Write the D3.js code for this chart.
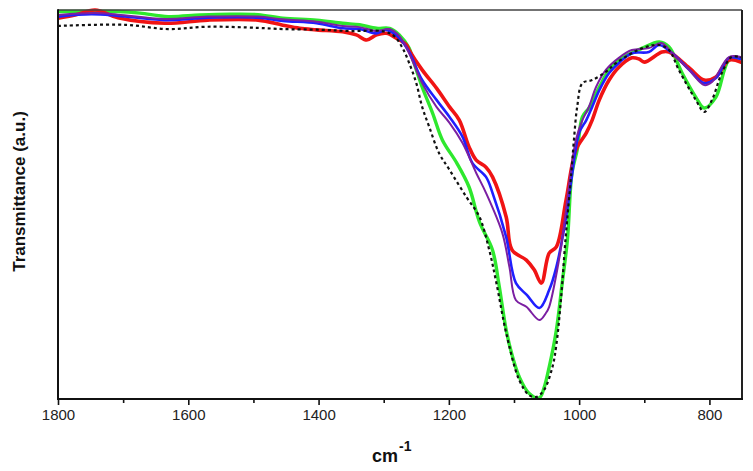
<!DOCTYPE html>
<html>
<head>
<meta charset="utf-8">
<script src="https://cdn.jsdelivr.net/npm/d3@7"></script>
<style>
  html, body { margin: 0; padding: 0; background: #fff; }
  svg { display: block; }
</style>
</head>
<body>
<svg id="chart" width="753" height="471"></svg>
<script>
// Wavenumber (cm-1), transmittance (a.u.)
const majorTicks = [1800, 1600, 1400, 1200, 1000, 800];
const minorTicks = [1700, 1500, 1300, 1100, 900];

const dashedBlack = [
  [1800,95.9],[1697,96.2],[1631,95.1],[1570,95.7],[1493,95.4],[1455,95.1],[1394,94.9],[1352,94.6],
  [1300,94.5],[1284,93.3],[1271,90.2],[1261,86.4],[1250,81.2],[1241,75.1],[1230,69.9],[1215,63.2],
  [1199,58.9],[1173,51.9],[1153,46.8],[1138,38.3],[1127,29.8],[1112,17.0],[1092,4.9],[1077,1.0],
  [1066,0.5],[1054,2.3],[1041,8.2],[1035,13.9],[1028,25.4],[1021,40.9],[1012,58.1],[1008,66.6],
  [1003,75.1],[995,81.2],[980,82.0],[959,84.1],[943,86.4],[903,90.2],[877,91.0],[862,89.7],
  [847,84.6],[821,76.9],[808,73.8],[796,76.9],[781,83.8],[766,87.9],[752,87.9]
];
const green = [
  [1800,99.6],[1708,99.6],[1674,99.2],[1631,98.3],[1582,98.7],[1536,98.9],[1493,98.8],[1455,97.9],
  [1403,97.4],[1363,96.6],[1337,96.2],[1311,95.3],[1291,95.3],[1276,93.6],[1261,90.2],[1256,87.7],
  [1241,80.2],[1225,73.5],[1210,66.6],[1188,60.7],[1169,54.5],[1153,45.5],[1133,38.3],[1123,29.3],
  [1112,17.7],[1103,11.3],[1092,5.7],[1077,1.5],[1061,0.3],[1054,2.8],[1046,8.2],[1035,17.7],
  [1026,29.8],[1018,40.9],[1011,58.1],[1003,64.0],[995,72.5],[985,74.8],[969,80.2],[954,84.6],
  [939,87.1],[903,90.2],[877,91.8],[862,90.5],[842,83.8],[821,77.6],[808,74.8],[790,77.6],
  [770,87.1],[752,87.7]
];
const red = [
  [1800,97.9],[1774,98.7],[1743,100.0],[1708,98.0],[1636,96.6],[1570,97.4],[1493,97.4],[1455,96.1],
  [1429,95.3],[1403,94.9],[1363,94.4],[1342,93.6],[1326,92.3],[1311,93.6],[1296,94.0],[1280,92.7],
  [1265,91.0],[1261,89.7],[1241,84.6],[1219,79.9],[1199,75.1],[1184,71.7],[1169,64.8],[1158,61.4],
  [1143,59.6],[1133,57.1],[1112,46.8],[1103,38.3],[1081,35.7],[1069,33.2],[1058,29.8],[1046,37.5],
  [1035,39.1],[1020,51.2],[1005,64.0],[989,68.4],[980,71.7],[969,76.9],[954,82.0],[939,85.3],
  [919,87.7],[908,87.4],[900,86.6],[873,89.2],[862,89.2],[831,85.1],[808,82.0],[790,82.8],
  [770,87.1],[752,86.6]
];
const blue = [
  [1800,98.3],[1749,98.9],[1708,98.5],[1636,97.4],[1570,98.0],[1493,98.0],[1455,97.2],[1403,96.6],
  [1363,95.3],[1337,95.1],[1311,94.0],[1296,94.9],[1276,92.8],[1261,89.2],[1241,82.0],[1219,76.9],
  [1199,72.5],[1179,67.4],[1164,60.7],[1143,57.1],[1133,53.0],[1112,41.6],[1097,29.8],[1080,26.7],
  [1061,23.4],[1046,28.0],[1035,33.9],[1020,46.8],[1012,56.3],[1000,68.4],[989,71.7],[980,75.1],
  [969,79.4],[954,83.8],[939,86.4],[919,88.9],[893,89.2],[877,91.0],[857,88.9],[831,84.6],
  [808,81.2],[790,82.5],[770,87.7],[752,87.4]
];
const purple = [
  [1800,98.7],[1743,99.2],[1708,98.8],[1636,97.7],[1570,98.3],[1493,98.3],[1455,97.6],[1403,97.0],
  [1363,95.9],[1337,95.6],[1311,94.6],[1291,95.1],[1276,93.3],[1261,88.9],[1241,81.2],[1219,75.1],
  [1199,71.0],[1179,65.8],[1158,58.1],[1143,53.0],[1118,42.7],[1107,33.9],[1097,25.4],[1081,23.7],
  [1061,20.3],[1051,22.1],[1046,23.7],[1031,35.7],[1023,44.7],[1015,55.5],[1005,66.6],[995,71.7],
  [985,75.1],[974,80.2],[959,84.6],[939,87.7],[919,89.7],[893,90.2],[874,91.5],[857,88.9],
  [831,84.6],[808,80.7],[796,81.5],[770,87.9],[752,87.9]
];

const W = 753, H = 471;
const plot = { left: 58, right: 742, top: 10, bottom: 399 };

const svg = d3.select("#chart");
const x = d3.scaleLinear().domain([1800, 750]).range([plot.left, plot.right]);
const y = d3.scaleLinear().domain([0, 100]).range([plot.bottom, plot.top]);

const clip = svg.append("defs").append("clipPath").attr("id", "clip")
  .append("rect")
  .attr("x", plot.left).attr("y", plot.top - 3)
  .attr("width", plot.right - plot.left).attr("height", plot.bottom - plot.top + 3);

const line = d3.line()
  .x(d => x(d[0])).y(d => y(d[1]))
  .curve(d3.curveCatmullRom.alpha(0.5));

const g = svg.append("g").attr("clip-path", "url(#clip)");

const series = [
  { data: green,  color: "#2ee82e", width: 3.4, dash: null },
  { data: red,    color: "#f01414", width: 3.6, dash: null },
  { data: blue,   color: "#1f1fff", width: 2.6, dash: null },
  { data: purple, color: "#7b1fa2", width: 2.0, dash: null },
  { data: dashedBlack, color: "#111111", width: 2.2, dash: "3,3" }
];
series.forEach(s => {
  g.append("path")
    .datum(s.data)
    .attr("d", line)
    .attr("fill", "none")
    .attr("stroke", s.color)
    .attr("stroke-width", s.width)
    .attr("stroke-linejoin", "round")
    .attr("stroke-linecap", s.dash ? "butt" : "round")
    .attr("stroke-dasharray", s.dash);
});

// Frame
svg.append("line").attr("x1", plot.left).attr("x2", plot.right)
  .attr("y1", plot.top).attr("y2", plot.top)
  .attr("stroke", "#444").attr("stroke-width", 1.5);
svg.append("line").attr("x1", plot.right).attr("x2", plot.right)
  .attr("y1", plot.top).attr("y2", plot.bottom)
  .attr("stroke", "#222").attr("stroke-width", 2);

// Bottom axis (major with labels)
const xAxis = d3.axisBottom(x).tickValues(majorTicks).tickSize(6).tickPadding(4)
  .tickFormat(d3.format("d"));
const ax = svg.append("g").attr("transform", `translate(0,${plot.bottom})`).call(xAxis);
ax.select(".domain").remove();
ax.selectAll(".tick line").attr("stroke", "#111").attr("stroke-width", 1.6);
ax.selectAll(".tick text")
  .attr("font-family", "Liberation Sans, Arial, sans-serif")
  .attr("font-size", 15).attr("fill", "#222");

const xMinor = d3.axisBottom(x).tickValues(minorTicks).tickSize(4).tickFormat("");
const axm = svg.append("g").attr("transform", `translate(0,${plot.bottom})`).call(xMinor);
axm.select(".domain").remove();
axm.selectAll(".tick line").attr("stroke", "#111").attr("stroke-width", 1.6);

// Left and bottom spines
svg.append("line").attr("x1", plot.left).attr("x2", plot.right + 1)
  .attr("y1", plot.bottom).attr("y2", plot.bottom)
  .attr("stroke", "#111").attr("stroke-width", 2);
svg.append("line").attr("x1", plot.left).attr("x2", plot.left)
  .attr("y1", plot.top - 0.75).attr("y2", plot.bottom + 1)
  .attr("stroke", "#111").attr("stroke-width", 2);

// Axis titles
const yt = svg.append("text")
  .attr("transform", `translate(25,${(plot.top + plot.bottom) / 2 - 13}) rotate(-90)`)
  .attr("text-anchor", "middle")
  .attr("font-family", "Liberation Sans, Arial, sans-serif")
  .attr("font-weight", "bold").attr("font-size", 17).attr("fill", "#111")
  .text("Transmittance (a.u.)");

const xt = svg.append("text")
  .attr("x", 372).attr("y", 462)
  .attr("font-family", "Liberation Sans, Arial, sans-serif")
  .attr("font-weight", "bold").attr("font-size", 18).attr("fill", "#111");
xt.append("tspan").text("cm");
xt.append("tspan").attr("font-size", 14).attr("dy", -11).attr("dx", 1).text("-1");
</script>
</body>
</html>
